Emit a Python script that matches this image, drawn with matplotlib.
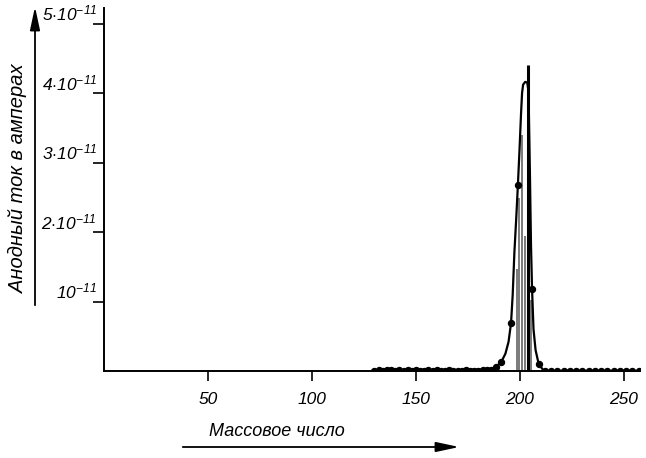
import matplotlib
matplotlib.use("Agg")
import matplotlib.pyplot as plt
from matplotlib.patches import FancyArrowPatch

plt.rcParams['font.family'] = ['Liberation Sans', 'DejaVu Sans']
plt.rcParams['mathtext.fontset'] = 'custom'
plt.rcParams['mathtext.rm'] = 'Liberation Sans:italic'
plt.rcParams['mathtext.it'] = 'Liberation Sans:italic'

# ---- data (anode current in units of 1e-11 A) ----
curve_mass = [130, 186, 188.5, 191, 193, 194.5, 195.7, 196.5, 197.3, 198.2, 199.0,
              199.8, 200.5, 201.0, 201.5, 202.5, 203.5, 204.1, 204.4, 204.8, 205.3,
              205.8, 206.5, 207.5, 209, 211, 212.5, 257]
curve_val = [0.0, 0.02, 0.06, 0.13, 0.25, 0.42, 0.69, 1.1, 1.7, 2.2, 2.68,
             3.2, 3.7, 4.0, 4.12, 4.16, 4.15, 4.02, 3.5, 2.8, 1.8,
             1.18, 0.6, 0.3, 0.1, 0.02, 0.0, 0.0]

dot_mass = [130, 132, 134, 136, 138, 140, 142, 144, 146, 148, 150, 152, 154, 156,
            158, 160, 162, 164, 166, 168, 170, 172, 174, 176, 178, 180, 182, 184,
            186, 188.5, 191, 195.7, 199.0, 205.8, 209,
            212, 215, 218, 221, 224, 227, 230, 233, 236, 239, 242, 245, 248, 251, 254, 257]
dot_val = [0.0, 0.01, 0.0, 0.02, 0.01, 0.0, 0.01, 0.0, 0.02, 0.0, 0.01, 0.0, 0.0, 0.01,
           0.0, 0.01, 0.0, 0.0, 0.01, 0.0, 0.0, 0.0, 0.01, 0.0, 0.0, 0.0, 0.01, 0.01,
           0.02, 0.06, 0.13, 0.69, 2.68, 1.18, 0.1,
           0.0, 0.0, 0.0, 0.0, 0.0, 0.0, 0.0, 0.0, 0.0, 0.0, 0.0, 0.0, 0.0, 0.0, 0.0, 0.0]

line_mass = [198.6, 199.6, 201.2, 202.6, 203.8, 205.2]
line_val = [1.47, 2.49, 3.40, 1.94, 4.40, 1.02]

x_ticks = [50, 100, 150, 200, 250]
x_tick_labels = ['50', '100', '150', '200', '250']
y_ticks = [1, 2, 3, 4, 5]
y_tick_labels = [r'$10^{-11}$', r'$2{\cdot}10^{-11}$', r'$3{\cdot}10^{-11}$',
                 r'$4{\cdot}10^{-11}$', r'$5{\cdot}10^{-11}$']

# ---- figure ----
fig = plt.figure(figsize=(6.46, 4.58), dpi=100)
ax = fig.add_axes([104 / 646, 1 - 371 / 458, (640 - 104) / 646, (371 - 8) / 458])
ax.set_xlim(0, 257.7)
ax.set_ylim(0, 363 / 69.5)

for m, v in zip(line_mass, line_val):
    if v > 4:
        ax.vlines(m, 0, v, color='black', lw=2.2, zorder=3)
    else:
        ax.vlines(m, 0, v, color='#707070', lw=1.3, zorder=2)

ax.plot(curve_mass, curve_val, color='black', lw=1.6, zorder=4)
ax.plot(dot_mass, dot_val, 'o', color='black', ms=4.3, zorder=5)

for s in ['top', 'right']:
    ax.spines[s].set_visible(False)
for s in ['left', 'bottom']:
    ax.spines[s].set_linewidth(1.4)

ax.set_xticks(x_ticks)
ax.set_xticklabels(x_tick_labels, fontsize=12.5, style='italic')
ax.set_yticks(y_ticks)
ax.set_yticklabels(y_tick_labels, fontsize=12.5)
ax.tick_params(axis='x', length=7, width=1.2, pad=8)
ax.tick_params(axis='y', length=8, width=1.2, pad=-3)
for lbl in ax.get_yticklabels():
    lbl.set_va('bottom')

# axis labels as figure text with arrows
fig.text(18 / 646, 1 - 179 / 458, 'Анодный ток в амперах', rotation=90,
         ha='center', va='center', fontsize=14.5, style='italic')
fig.text(277 / 646, 1 - 431 / 458, 'Массовое число', ha='center', va='center',
         fontsize=13, style='italic')

fig.add_artist(FancyArrowPatch((35 / 646, 1 - 308 / 458), (35 / 646, 1 - 4 / 458),
                               transform=fig.transFigure,
                               arrowstyle='-|>,head_length=14,head_width=3',
                               color='black', lw=1.3))
fig.add_artist(FancyArrowPatch((180 / 646, 1 - 447 / 458), (462 / 646, 1 - 447 / 458),
                               transform=fig.transFigure,
                               arrowstyle='-|>,head_length=14,head_width=3',
                               color='black', lw=1.3))

fig.savefig('out.png', dpi=100)
